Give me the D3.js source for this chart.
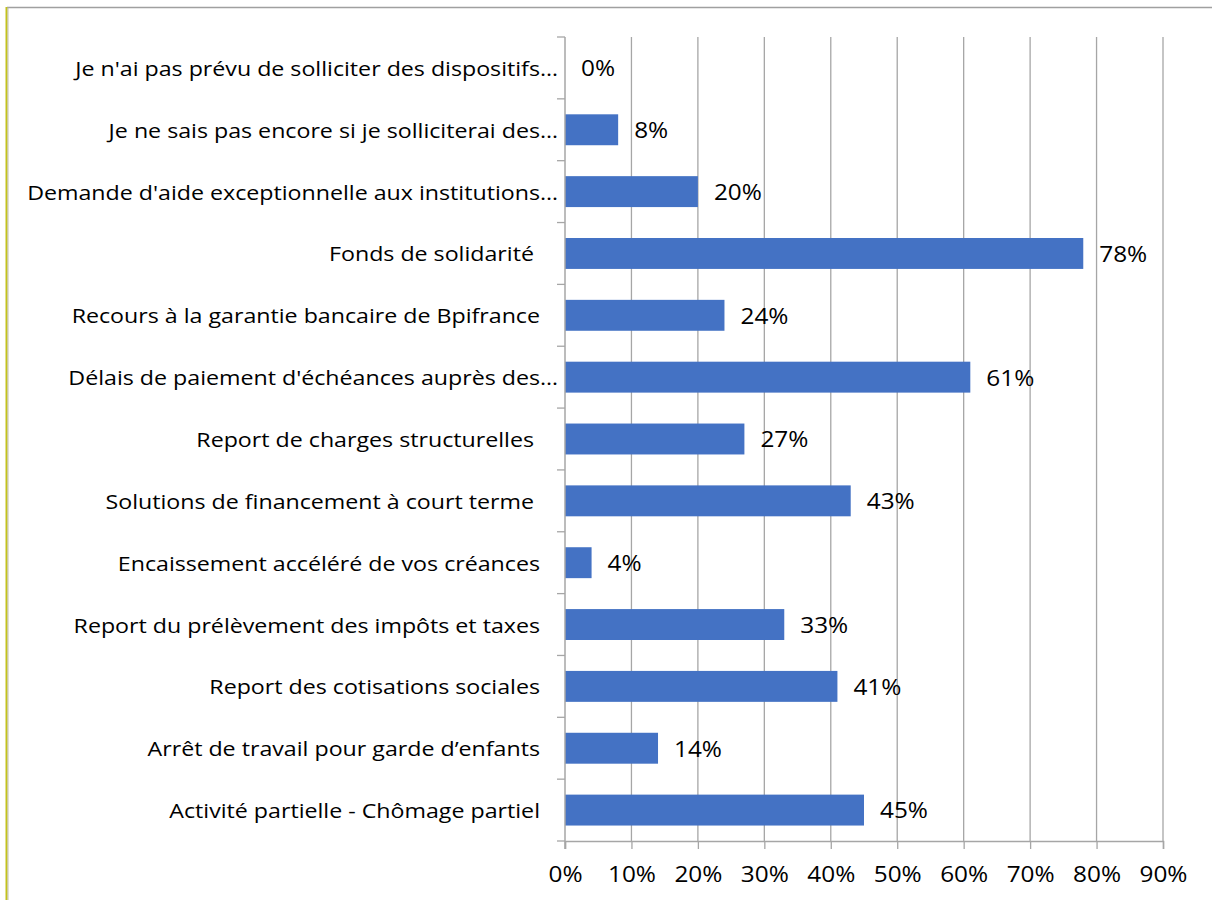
<!DOCTYPE html>
<html>
<head>
<meta charset="utf-8">
<script src="https://cdn.jsdelivr.net/npm/d3@7"></script>
<style>
  html, body { margin: 0; padding: 0; background: #fff; }
  svg { display: block; }
  text { font-family: "Open Sans", "Noto Sans", sans-serif; fill: #000; }
</style>
</head>
<body>
<svg id="chart" width="1212" height="900"></svg>
<script>
// Dispositifs sollicités (part des répondants)
const categories = [
  "Je n'ai pas prévu de solliciter des dispositifs…",
  "Je ne sais pas encore si je solliciterai des…",
  "Demande d'aide exceptionnelle aux institutions…",
  "Fonds de solidarité ",
  "Recours à la garantie bancaire de Bpifrance",
  "Délais de paiement d'échéances auprès des…",
  "Report de charges structurelles ",
  "Solutions de financement à court terme ",
  "Encaissement accéléré de vos créances",
  "Report du prélèvement des impôts et taxes",
  "Report des cotisations sociales",
  "Arrêt de travail pour garde d’enfants",
  "Activité partielle - Chômage partiel"
];
const values = [0, 8, 20, 78, 24, 61, 27, 43, 4, 33, 41, 14, 45];
const xTicks = [0, 10, 20, 30, 40, 50, 60, 70, 80, 90];

const svg = d3.select("#chart");
const W = 1212, H = 900;
const plot = { left: 565, right: 1163, top: 37, bottom: 841 };
const gridColor = "#a6a6a6";
const stretch = 1.16;   // slightly wide lettering

// Chart frame: grey top rule and olive left edge
svg.append("line")
  .attr("x1", 7).attr("x2", W).attr("y1", 7.5).attr("y2", 7.5)
  .attr("stroke", "#a0a0a0").attr("stroke-width", 1.5);
svg.append("line")
  .attr("x1", 6.5).attr("x2", 6.5).attr("y1", 7).attr("y2", H)
  .attr("stroke", "#c3c21c").attr("stroke-width", 2);
svg.append("line")
  .attr("x1", 8).attr("x2", 8).attr("y1", 7).attr("y2", H)
  .attr("stroke", "#b0b0a0").attr("stroke-width", 0.8);

const x = d3.scaleLinear().domain([0, 90]).range([plot.left, plot.right]);
const y = d3.scaleBand().domain(categories).range([plot.top, plot.bottom]).paddingInner(0.5).paddingOuter(0.25);
const yb = d3.scaleBand().domain(categories).range([plot.top, plot.bottom]);

// Vertical gridlines
svg.append("g").selectAll("line")
  .data(xTicks.slice(1))
  .join("line")
  .attr("x1", d => x(d)).attr("x2", d => x(d))
  .attr("y1", plot.top).attr("y2", plot.bottom)
  .attr("stroke", gridColor).attr("stroke-width", 1.3);

// Bars
svg.append("g").selectAll("rect")
  .data(values)
  .join("rect")
  .attr("x", x(0))
  .attr("y", (d, i) => y(categories[i]))
  .attr("width", d => x(d) - x(0))
  .attr("height", y.bandwidth())
  .attr("fill", "#4472c4");

// Value labels
svg.append("g").selectAll("text")
  .data(values)
  .join("text")
  .attr("transform", (d, i) =>
    `translate(${x(d) + 16},${y(categories[i]) + y.bandwidth() / 2 + 1}) scale(${stretch},1)`)
  .attr("dy", "0.35em")
  .attr("font-size", 21)
  .text(d => d + "%");

// Bottom axis
const xAxis = d3.axisBottom(x).tickValues(xTicks).tickFormat(d => d + "%").tickSize(8).tickPadding(18);
const gx = svg.append("g").attr("transform", `translate(0,${plot.bottom})`).call(xAxis);
gx.select(".domain").attr("stroke", gridColor).attr("stroke-width", 1.5);
gx.selectAll(".tick line").attr("stroke", gridColor).attr("stroke-width", 1.3);
gx.selectAll(".tick text")
  .attr("font-size", 21)
  .attr("font-family", "\"Open Sans\", sans-serif")
  .attr("fill", "#000")
  .attr("transform", `scale(${stretch},1)`);

// Left axis: line with ticks on the category boundaries
svg.append("line")
  .attr("x1", plot.left).attr("x2", plot.left)
  .attr("y1", plot.top).attr("y2", plot.bottom + 8)
  .attr("stroke", gridColor).attr("stroke-width", 1.5);
svg.append("g").selectAll("line")
  .data(d3.range(categories.length + 1))
  .join("line")
  .attr("x1", plot.left - 8).attr("x2", plot.left)
  .attr("y1", i => plot.top + i * yb.step()).attr("y2", i => plot.top + i * yb.step())
  .attr("stroke", gridColor).attr("stroke-width", 1.3);

// Category labels, right-aligned against the axis
svg.append("g").selectAll("text")
  .data(categories)
  .join("text")
  .attr("transform", d =>
    `translate(${d.endsWith("…") ? 558 : 540},${yb(d) + yb.bandwidth() / 2 + 1}) scale(${stretch},1)`)
  .attr("dy", "0.35em")
  .attr("text-anchor", "end")
  .attr("font-size", 20)
  .style("white-space", "pre")
  .text(d => d);
</script>
</body>
</html>
